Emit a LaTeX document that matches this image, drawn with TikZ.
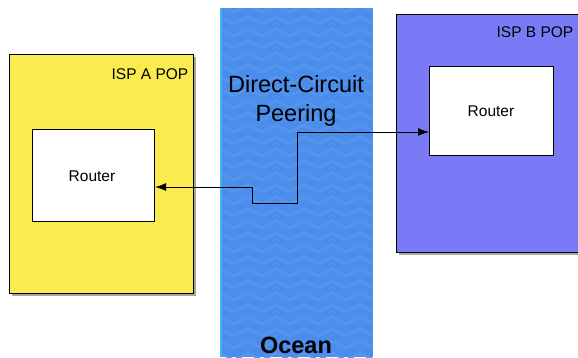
\documentclass[tikz,border=0pt]{standalone}
\usepackage{fontspec}
\setmainfont{Liberation Sans}
\usetikzlibrary{arrows.meta,shadows}
\definecolor{popyellow}{HTML}{FAEC4E}
\definecolor{poppurple}{HTML}{7B7AF6}
\definecolor{oceanblue}{HTML}{4A8DEB}
\definecolor{wavelight}{HTML}{5595EE}
\tikzset{
  popbox/.style={draw=black, line width=1pt, inner sep=0pt, anchor=north west,
    drop shadow={shadow xshift=2.5pt, shadow yshift=-2.5pt, opacity=0.7}},
  routerbox/.style={draw=black, line width=1pt, fill=white, inner sep=0pt, anchor=north west},
  lbl/.style={font=\fontsize{15.5}{18}\selectfont},
  big/.style={font=\fontsize{23.5}{29}\selectfont},
  link/.style={line width=1pt, -{Latex[length=11pt,width=8pt]}},
}
\begin{document}
\begin{tikzpicture}[x=1pt, y=-1pt]
\useasboundingbox (0,0) rectangle (578,357);
\fill[white] (0,0) rectangle (578,357);
% ocean band with a faint chevron texture
\fill[oceanblue] (220,8) rectangle (373,357);
\begin{scope}
  \clip (220,8) rectangle (373,357);
  \foreach \yy in {0,12,...,372}{
    \draw[wavelight, line width=2.6pt, line join=round]
      (206,\yy) \foreach \xx in {206,234,...,390}{ -- (\xx+14,\yy-7) -- (\xx+28,\yy) };
  }
  \draw[wavelight!70!cyan, line width=1.2pt] (221,8) -- (221,357);
\end{scope}
% points of presence
\begin{scope}
  \clip (0,0) rectangle (578,357);
  \node[popbox, fill=popyellow, minimum width=184pt, minimum height=239pt] (popA) at (9,54) {};
  \node[popbox, fill=poppurple, minimum width=190pt, minimum height=238pt] (popB) at (396,14) {};
\end{scope}
\node[lbl] (popAlabel) at (150,74) {ISP A POP};
\node[lbl] (popBlabel) at (535,32) {ISP B POP};
% routers
\node[routerbox, minimum width=122pt, minimum height=92pt] (routerA) at (32,129) {};
\node[lbl] (routerAlabel) at (92,176) {Router};
\node[routerbox, minimum width=124pt, minimum height=89pt] (routerB) at (429,66) {};
\node[lbl] (routerBlabel) at (491,111) {Router};
% ocean captions
\node[big, align=center] (dcp) at (296,101) {Direct-Circuit\\Peering};
\node[big, font=\fontsize{23.5}{29}\bfseries\selectfont] (ocean) at (296,345) {Ocean};
% peering circuit
\coordinate (c1) at (252,187);
\coordinate (c2) at (252,203);
\coordinate (c3) at (297,203);
\coordinate (c4) at (297,132);
\draw[link] (c4) -- (routerB.west |- c4);
\draw[link] (c1) -- (routerA.east |- c1);
\draw[line width=1pt] (c1) -- (c2) -- (c3) -- (c4);
\end{tikzpicture}
\end{document}
